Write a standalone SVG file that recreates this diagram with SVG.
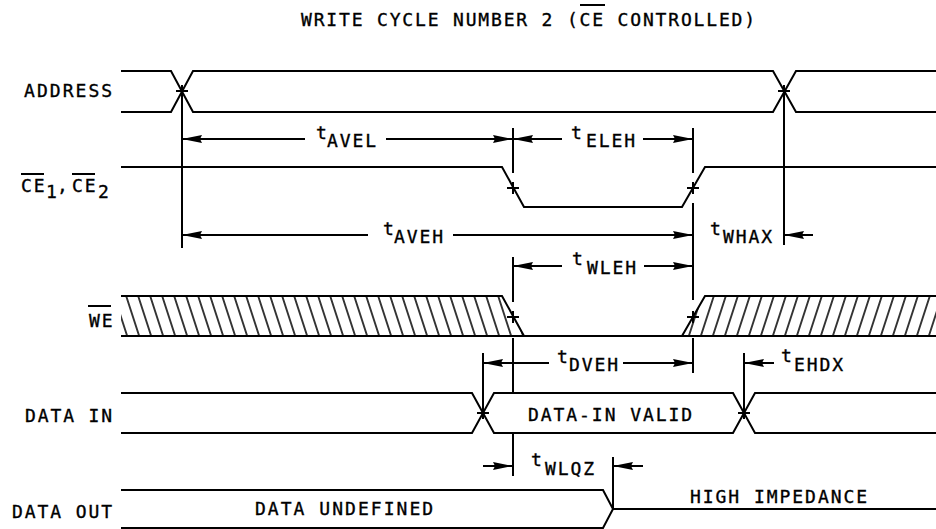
<svg xmlns="http://www.w3.org/2000/svg" width="936" height="529" viewBox="0 0 936 529">
<style>
.sig{fill:none;stroke:#000;stroke-width:2;stroke-linejoin:miter}
.tk{fill:none;stroke:#000;stroke-width:2}
.dim{fill:none;stroke:#000;stroke-width:2;marker-end:url(#ah)}
text{font-family:"DejaVu Sans Mono","Liberation Mono",monospace;font-size:18px;letter-spacing:1.9px;fill:#000;stroke:#000;stroke-width:0.35}
.hat{stroke:#000;stroke-width:1.6}
</style>
<defs>
<marker id="ah" markerUnits="userSpaceOnUse" markerWidth="20" markerHeight="9" refX="20" refY="4.5" orient="auto" viewBox="0 0 20 9">
<path d="M0,0.5 L20,4.5 L0,8.5 L2,4.5 z" fill="#000"/>
</marker>
<pattern id="hatchL" width="12" height="40" patternUnits="userSpaceOnUse" patternTransform="skewX(18)">
<line class="hat" x1="6" y1="-2" x2="6" y2="42"/>
</pattern>
<pattern id="hatchR" width="12" height="40" patternUnits="userSpaceOnUse" patternTransform="skewX(-18)">
<line class="hat" x1="6" y1="-2" x2="6" y2="42"/>
</pattern>
</defs>
<rect width="936" height="529" fill="#fff"/>

<g id="title">
<text x="301" y="26" textLength="456" lengthAdjust="spacing">WRITE CYCLE NUMBER 2 (CE CONTROLLED)</text>
<line class="tk" x1="580" y1="5" x2="605" y2="5"/>
</g>

<g id="address">
<text x="24" y="97" textLength="90" lengthAdjust="spacing">ADDRESS</text>
<path class="sig" d="M121,71 H171 L193,112 H773 L796,71 H936"/>
<path class="sig" d="M121,112 H171 L193,71 H773 L796,112 H936"/>
</g>

<g id="ce">
<text x="21" y="192">CE</text>
<text x="46" y="198">1</text>
<text x="57" y="192">,</text>
<text x="72" y="192">CE</text>
<text x="98" y="198">2</text>
<line class="tk" x1="21" y1="174" x2="44" y2="174"/>
<line class="tk" x1="72" y1="174" x2="95" y2="174"/>
<path class="sig" d="M121,167 H502 L524,207 H682 L705,167 H936"/>
</g>

<g id="we">
<text x="89" y="327">WE</text>
<line class="tk" x1="88" y1="306" x2="111" y2="306"/>
<polygon points="121,296 502,296 524,336 121,336" fill="url(#hatchL)"/>
<polygon points="682,336 705,296 936,296 936,336" fill="url(#hatchR)"/>
<path class="sig" d="M121,296 H502 L524,336"/>
<path class="sig" d="M121,336 H936"/>
<path class="sig" d="M682,336 L705,296 H936"/>
</g>

<g id="datain">
<text x="25" y="422" textLength="89" lengthAdjust="spacing">DATA IN</text>
<path class="sig" d="M121,393 H472 L494,433 H733 L755,393 H936"/>
<path class="sig" d="M121,433 H472 L494,393 H733 L755,433 H936"/>
<text x="528" y="421" textLength="166" lengthAdjust="spacing">DATA-IN VALID</text>
</g>

<g id="dataout">
<text x="12" y="518" textLength="102" lengthAdjust="spacing">DATA OUT</text>
<path class="sig" d="M121,490 H603 L613,509 L603,528 H121"/>
<path class="sig" d="M613,509 H936"/>
<text x="255" y="515" textLength="180" lengthAdjust="spacing">DATA UNDEFINED</text>
<text x="690" y="503" textLength="179" lengthAdjust="spacing">HIGH IMPEDANCE</text>
</g>

<g id="connectors">
<line class="tk" x1="182" y1="85" x2="182" y2="248"/>
<line class="tk" x1="784" y1="85" x2="784" y2="245"/>
<line class="tk" x1="513" y1="128" x2="513" y2="173"/>
<line class="tk" x1="513" y1="257" x2="513" y2="302"/>
<line class="tk" x1="513" y1="338" x2="513" y2="392"/>
<line class="tk" x1="513" y1="433" x2="513" y2="476"/>
<line class="tk" x1="693" y1="128" x2="693" y2="173"/>
<line class="tk" x1="693" y1="203" x2="693" y2="300"/>
<line class="tk" x1="693" y1="338" x2="693" y2="373"/>
<line class="tk" x1="483" y1="353" x2="483" y2="419"/>
<line class="tk" x1="744" y1="353" x2="744" y2="419"/>
<line class="tk" x1="613" y1="457" x2="613" y2="509"/>
<path class="tk" d="M176,91 H188 M778,91 H790 M477,413 H489 M738,413 H750"/>
<path class="tk" d="M507,188 H519 M513,182 V194 M687,188 H699 M693,182 V194"/>
<path class="tk" d="M507,317 H519 M513,311 V323 M687,317 H699 M693,311 V323"/>
<line class="dim" x1="305" y1="139" x2="182" y2="139"/>
<line class="dim" x1="386" y1="139" x2="513" y2="139"/>
<line class="dim" x1="562" y1="139" x2="513" y2="139"/>
<line class="dim" x1="643" y1="139" x2="693" y2="139"/>
<line class="dim" x1="368" y1="235" x2="182" y2="235"/>
<line class="dim" x1="453" y1="235" x2="693" y2="235"/>
<line class="dim" x1="813" y1="235" x2="784" y2="235"/>
<line class="dim" x1="562" y1="266" x2="513" y2="266"/>
<line class="dim" x1="644" y1="266" x2="693" y2="266"/>
<line class="dim" x1="549" y1="363" x2="483" y2="363"/>
<line class="dim" x1="623" y1="363" x2="693" y2="363"/>
<line class="dim" x1="774" y1="363" x2="744" y2="363"/>
<line class="dim" x1="483" y1="466" x2="513" y2="466"/>
<line class="dim" x1="643" y1="466" x2="613" y2="466"/>
</g>

<g id="timing-labels">
<text x="316" y="139">t</text><text x="327" y="147">AVEL</text>
<text x="571" y="139">t</text><text x="586" y="147">ELEH</text>
<text x="383" y="235">t</text><text x="394" y="243">AVEH</text>
<text x="710" y="235">t</text><text x="723" y="243">WHAX</text>
<text x="572" y="265">t</text><text x="587" y="274">WLEH</text>
<text x="557" y="363">t</text><text x="569" y="371">DVEH</text>
<text x="781" y="362">t</text><text x="794" y="371">EHDX</text>
<text x="531" y="466">t</text><text x="545" y="475">WLQZ</text>
</g>
</svg>
